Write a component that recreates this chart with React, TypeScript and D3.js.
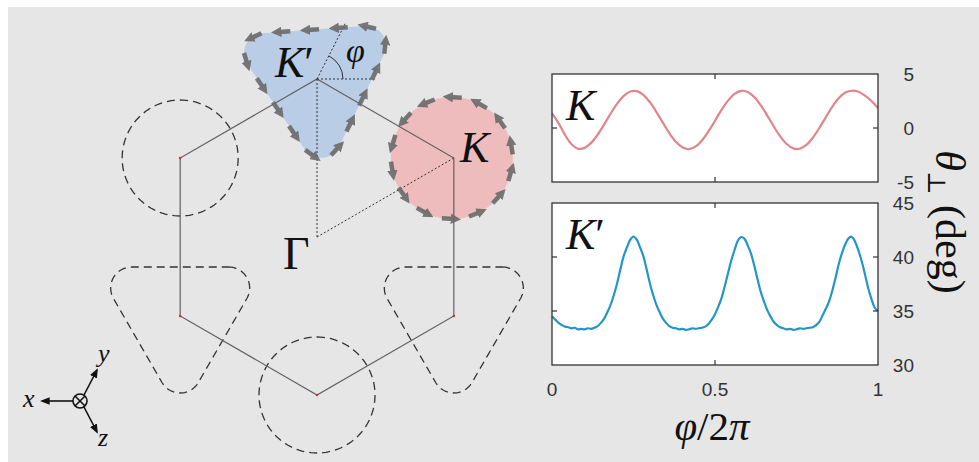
import React from 'react';
import * as d3 from 'd3';

const W = 979;
const H = 462;

// theta_perp at K (deg), evenly sampled over phi/2pi = 0..1
const thetaK = [
  1.35, 0.45, -0.65, -1.5, -1.92, -1.84, -1.38, -0.62, 0.33, 1.34,
  2.26, 2.98, 3.38, 3.42, 3.07, 2.41, 1.5, 0.5, -0.48, -1.28,
  -1.79, -1.95, -1.73, -1.16, -0.32, 0.67, 1.67, 2.53, 3.16, 3.44,
  3.34, 2.88, 2.12, 1.17, 0.16, -0.77, -1.48, -1.89, -1.92, -1.57,
  -0.9, 0.0, 1.0, 1.98, 2.78, 3.29, 3.45, 3.35, 3.0, 2.5, 1.85,
];

// theta_perp at K' (deg), evenly sampled over phi/2pi = 0..1
const thetaKp = [
  34.5, 34.2, 33.9, 33.7, 33.55, 33.5, 33.4, 33.45, 33.3, 33.35,
  33.3, 33.4, 33.35, 33.45, 33.6, 33.9, 34.3, 34.9, 35.6, 36.5,
  37.6, 38.9, 40.1, 40.9, 41.6, 41.9, 41.6, 40.9, 40.1, 38.9,
  37.6, 36.5, 35.6, 34.9, 34.3, 33.9, 33.6, 33.45, 33.4, 33.3,
  33.35, 33.25, 33.3, 33.4, 33.35, 33.4, 33.45, 33.55, 33.8, 34.2,
  34.7, 35.4, 36.2, 37.3, 38.5, 39.7, 40.65, 41.5, 41.85, 41.7,
  41.1, 40.35, 39.25, 38.0, 36.8, 35.9, 35.1, 34.5, 34.0, 33.7,
  33.5, 33.4, 33.3, 33.35, 33.25, 33.3, 33.4, 33.35, 33.4, 33.45,
  33.5, 33.7, 34.0, 34.6, 35.2, 35.9, 36.9, 38.1, 39.4, 40.4,
  41.2, 41.75, 41.85, 41.4, 40.6, 39.6, 38.4, 37.1, 36.1, 35.3, 35.0,
];

const phiTicks = [0, 0.5, 1];
const phiTickLabels = ['0', '0.5', '1'];
const kTicks = [-5, 0, 5];
const kpTicks = [30, 35, 40, 45];

const serif = '"Liberation Serif", "DejaVu Serif", serif';
const sans = '"Liberation Sans", Arial, sans-serif';

const x = d3.scaleLinear().domain([0, 1]).range([552, 878]);

const toPairs = (vals: number[]) =>
  vals.map((v, i) => [i / (vals.length - 1), v] as [number, number]);

function Panel({ top, bottom, domain, ticks, values, color, label, prime }: any) {
  const y = d3.scaleLinear().domain(domain).range([bottom, top]);
  const line = d3
    .line<[number, number]>()
    .x((d) => x(d[0]))
    .y((d) => y(d[1]))
    .curve(d3.curveCatmullRom);
  const [x0, x1] = x.range();
  return (
    <g>
      <rect x={x0} y={top} width={x1 - x0} height={bottom - top} fill="white" />
      <path d={line(toPairs(values)) || ''} fill="none" stroke={color} strokeWidth={2.2} />
      {phiTicks.slice(1, -1).map((t) => (
        <g key={'xt' + t}>
          <line x1={x(t)} x2={x(t)} y1={top} y2={top + 5} stroke="#333" strokeWidth={1.2} />
          <line x1={x(t)} x2={x(t)} y1={bottom} y2={bottom - 5} stroke="#333" strokeWidth={1.2} />
        </g>
      ))}
      {ticks.slice(1, -1).map((t: number) => (
        <g key={'yt' + t}>
          <line x1={x0} x2={x0 + 5} y1={y(t)} y2={y(t)} stroke="#333" strokeWidth={1.2} />
          <line x1={x1} x2={x1 - 5} y1={y(t)} y2={y(t)} stroke="#333" strokeWidth={1.2} />
        </g>
      ))}
      <rect x={x0} y={top} width={x1 - x0} height={bottom - top} fill="none" stroke="#333" strokeWidth={1.3} />
      {ticks.map((t: number) => (
        <text key={'yl' + t} x={914} y={y(t) + 7} textAnchor="end" fontFamily={sans} fontSize={19} fill="#333">
          {t}
        </text>
      ))}
      <text x={566} y={top + 46} fontFamily={serif} fontSize={44} fontStyle="italic" fill="#111">
        {label}
        {prime ? <tspan fontStyle="normal">′</tspan> : null}
      </text>
    </g>
  );
}

// Brillouin zone diagram
const hexC = [317, 237];
const hexR = 158;
const vertexAngles = [0, 60, 120, 180, 240, 300];
const vtx = (deg: number) => {
  const a = (deg * Math.PI) / 180;
  return [hexC[0] + hexR * Math.sin(a), hexC[1] - hexR * Math.cos(a)];
};
const dir = (a: number) => [Math.sin(a), -Math.cos(a)];

// rounded triangle (pointing down) around c: inner triangle + rounding radius
const roundedTri = (c: number[], rho: number, rc: number, rot: number) => {
  const pts: [number, number][] = [];
  [60, 180, 300].forEach((deg) => {
    const phi = (deg * Math.PI) / 180 + rot;
    const v = dir(phi);
    d3.range(-60, 60.01, 4).forEach((da) => {
      const n = dir(phi + (da * Math.PI) / 180);
      pts.push([c[0] + 2 * rho * v[0] + rc * n[0], c[1] + 2 * rho * v[1] + rc * n[1]]);
    });
  });
  return pts;
};
const circlePts = (c: number[], r: number) =>
  d3.range(0, 360, 3).map((deg) => {
    const n = dir((deg * Math.PI) / 180);
    return [c[0] + r * n[0], c[1] + r * n[1]] as [number, number];
  });

const closed = (pts: [number, number][]) => d3.line().curve(d3.curveLinearClosed)(pts) || '';

// arrows spaced evenly along the contour, pointing counter-clockwise on screen
const arrowsOn = (pts: [number, number][], n: number, len: number, off: number) => {
  const ring = [...pts, pts[0]];
  const cum = [0];
  for (let i = 1; i < ring.length; i++) {
    cum.push(cum[i - 1] + Math.hypot(ring[i][0] - ring[i - 1][0], ring[i][1] - ring[i - 1][1]));
  }
  const total = cum[cum.length - 1];
  const at = (s: number) => {
    s = ((s % total) + total) % total;
    const i = Math.max(1, d3.bisectLeft(cum, s));
    const t = (s - cum[i - 1]) / (cum[i] - cum[i - 1] || 1);
    return [ring[i - 1][0] + t * (ring[i][0] - ring[i - 1][0]), ring[i - 1][1] + t * (ring[i][1] - ring[i - 1][1])];
  };
  return d3.range(n).map((i) => {
    const s = off + (i * total) / n;
    const p = at(s + len / 2);
    const q = at(s - len / 2);
    return `M${p[0]},${p[1]}L${q[0]},${q[1]}`;
  });
};

export default function App() {
  const kp = vtx(0);
  const k = vtx(60);
  const bluePts = roundedTri(kp, 29.5, 20, (-4 * Math.PI) / 180);
  const redPts = circlePts([k[0] - 2, k[1]], 61);

  const hexPath = d3.line().curve(d3.curveLinearClosed)(vertexAngles.map(vtx) as [number, number][]) || '';

  const phiArc = d3.path();
  phiArc.arc(kp[0], kp[1], 26, (-63 * Math.PI) / 180, 0);
  const tiltEnd = [kp[0] + 64 * Math.cos((63 * Math.PI) / 180), kp[1] - 64 * Math.sin((63 * Math.PI) / 180)];

  const ax = [80, 401];

  return (
    <svg width={W} height={H} style={{ position: 'absolute', left: 0, top: 0 }}>
      <defs>
        <marker id="ah" viewBox="0 0 10 10" refX="3" refY="5" markerWidth="2.3" markerHeight="2.3" orient="auto">
          <path d="M0,0L10,5L0,10z" fill="#6a6a6a" />
        </marker>
        <marker id="axh" viewBox="0 0 10 10" refX="8" refY="5" markerWidth="6" markerHeight="6" orient="auto">
          <path d="M0,1L10,5L0,9z" fill="#111" />
        </marker>
      </defs>
      <rect x={0} y={0} width={W} height={H} fill="white" />
      <rect x={8} y={7} width={W - 8} height={H - 7} fill="#e6e6e6" />

      {/* filled valleys */}
      <path d={closed(bluePts)} fill="#b9cde6" />
      <path d={closed(redPts)} fill="#eebcbd" />

      {/* dashed contours at other corners */}
      <g fill="none" stroke="#333" strokeWidth={1.3} strokeDasharray="8 5">
        <path d={closed(circlePts(vtx(300), 58))} />
        <path d={closed(circlePts(vtx(180), 58))} />
        <path d={closed(roundedTri(vtx(240), 28, 21, 0))} />
        <path d={closed(roundedTri(vtx(120), 28, 21, 0))} />
      </g>

      {/* zone boundary and guides */}
      <path d={hexPath} fill="none" stroke="#606060" strokeWidth={1.2} />
      <g stroke="#333" strokeWidth={1} strokeDasharray="2 2" fill="none">
        <line x1={hexC[0]} y1={hexC[1]} x2={kp[0]} y2={kp[1]} />
        <line x1={hexC[0]} y1={hexC[1]} x2={k[0]} y2={k[1]} />
        <line x1={kp[0]} y1={kp[1]} x2={kp[0] + 58} y2={kp[1]} />
        <line x1={kp[0]} y1={kp[1]} x2={tiltEnd[0]} y2={tiltEnd[1]} />
      </g>
      <path d={phiArc.toString()} fill="none" stroke="#333" strokeWidth={1} />
      {[vtx(300), vtx(180), vtx(240), vtx(120)].map((p, i) => (
        <circle key={i} cx={p[0]} cy={p[1]} r={1.3} fill="#c0392b" />
      ))}

      {/* pseudospin arrows */}
      <g stroke="#6a6a6a" strokeWidth={4.5} opacity={0.9} fill="none">
        {arrowsOn(bluePts, 15, 12, 6).map((d, i) => (
          <path key={'b' + i} d={d} markerEnd="url(#ah)" />
        ))}
        {arrowsOn(redPts, 14, 12, 4).map((d, i) => (
          <path key={'r' + i} d={d} markerEnd="url(#ah)" />
        ))}
      </g>

      {/* labels */}
      <text x={275} y={77} fontFamily={serif} fontSize={44} fontStyle="italic" fill="#111">
        K<tspan fontStyle="normal">′</tspan>
      </text>
      <text x={346} y={62} fontFamily={serif} fontSize={34} fontStyle="italic" fill="#111">φ</text>
      <text x={460} y={162} fontFamily={serif} fontSize={44} fontStyle="italic" fill="#111">K</text>
      <text x={283} y={269} fontFamily={serif} fontSize={46} fill="#111">Γ</text>

      {/* axes triad */}
      <g stroke="#111" strokeWidth={1.6} fill="none">
        <line x1={ax[0] - 7} y1={ax[1]} x2={42} y2={ax[1]} markerEnd="url(#axh)" />
        <line x1={ax[0] + 4} y1={ax[1] - 6} x2={97} y2={370} markerEnd="url(#axh)" />
        <line x1={ax[0] + 4} y1={ax[1] + 6} x2={97} y2={432} markerEnd="url(#axh)" />
        <circle cx={ax[0]} cy={ax[1]} r={7} />
        <line x1={ax[0] - 5} y1={ax[1] - 5} x2={ax[0] + 5} y2={ax[1] + 5} />
        <line x1={ax[0] - 5} y1={ax[1] + 5} x2={ax[0] + 5} y2={ax[1] - 5} />
      </g>
      <text x={23} y={407} fontFamily={serif} fontSize={26} fontStyle="italic" fill="#111">x</text>
      <text x={98} y={362} fontFamily={serif} fontSize={26} fontStyle="italic" fill="#111">y</text>
      <text x={98} y={446} fontFamily={serif} fontSize={26} fontStyle="italic" fill="#111">z</text>

      {/* right panels */}
      <Panel top={74} bottom={182} domain={[-5, 5]} ticks={kTicks} values={thetaK} color="#e0868a" label="K" />
      <Panel top={203} bottom={365} domain={[30, 45]} ticks={kpTicks} values={thetaKp} color="#2396c8" label="K" prime />

      {phiTicks.map((t, i) => (
        <text key={t} x={x(t)} y={396} textAnchor="middle" fontFamily={sans} fontSize={19} fill="#333">
          {phiTickLabels[i]}
        </text>
      ))}
      <text x={712} y={440} textAnchor="middle" fontFamily={serif} fontSize={41} fill="#111">
        <tspan fontStyle="italic">φ</tspan>/2<tspan fontStyle="italic">π</tspan>
      </text>
      <text transform="translate(936,222) rotate(90)" textAnchor="middle" fontFamily={serif} fontSize={42} fill="#111">
        <tspan fontStyle="italic">θ</tspan>
        <tspan fontSize={25} dy={8}>⊥</tspan>
        <tspan dy={-8}> (deg)</tspan>
      </text>
    </svg>
  );
}
